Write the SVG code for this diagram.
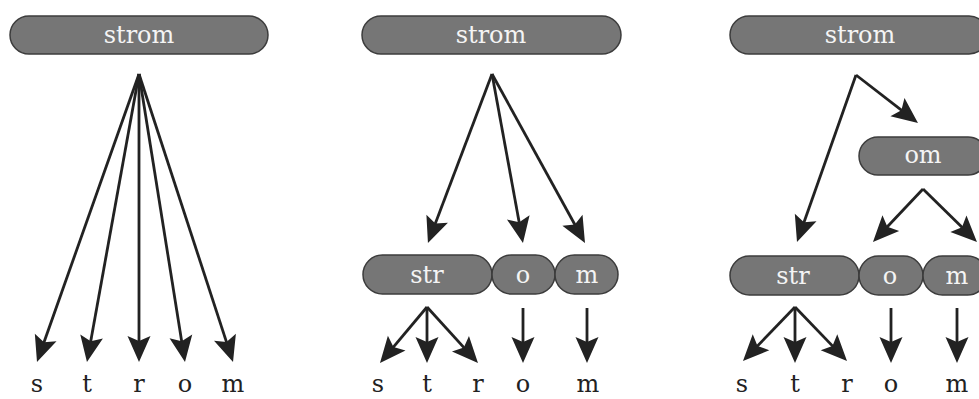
<svg xmlns="http://www.w3.org/2000/svg" width="979" height="399" viewBox="0 0 979 399">
  <defs>
    <marker id="head" viewBox="-15 -13 28 26" refX="0" refY="0" markerWidth="28" markerHeight="26" markerUnits="userSpaceOnUse" orient="auto">
      <path d="M12,0 L-14,-11.5 L-9,0 L-14,11.5 Z" fill="#222"/>
    </marker>
  </defs>
  <style>
    .box { fill: #767676; stroke: #3c3c3c; stroke-width: 1.5; }
    .lbl { font-family: "DejaVu Serif", "Liberation Serif", serif; font-size: 24px; fill: #f4f4f4; text-anchor: middle; }
    .ch { font-family: "DejaVu Serif", "Liberation Serif", serif; font-size: 24px; fill: #222; text-anchor: middle; }
    .edge { stroke: #222; stroke-width: 2.8; fill: none; marker-end: url(#head); }
  </style>

  <!-- panel 1: whole word split straight into letters -->
  <g id="p1-strom"><rect class="box" x="10" y="16" width="258" height="38" rx="19"/><text class="lbl" x="139" y="43">strom</text></g>
  <g id="p1-s"><text class="ch" x="37" y="392">s</text></g>
  <g id="p1-t"><text class="ch" x="87" y="392">t</text></g>
  <g id="p1-r"><text class="ch" x="139" y="392">r</text></g>
  <g id="p1-o"><text class="ch" x="185" y="392">o</text></g>
  <g id="p1-m"><text class="ch" x="233" y="392">m</text></g>

  <!-- panel 2: word into str / o / m, then letters -->
  <g id="p2-strom"><rect class="box" x="362" y="16" width="259" height="38" rx="19"/><text class="lbl" x="491" y="43">strom</text></g>
  <g id="p2-str"><rect class="box" x="363" y="255" width="129" height="39" rx="19.5"/><text class="lbl" x="427" y="283">str</text></g>
  <g id="p2-o"><rect class="box" x="492" y="255" width="63" height="39" rx="19.5"/><text class="lbl" x="523" y="283">o</text></g>
  <g id="p2-m"><rect class="box" x="555" y="255" width="63" height="39" rx="19.5"/><text class="lbl" x="587" y="283">m</text></g>
  <g id="p2-letters">
    <text class="ch" x="378" y="392">s</text>
    <text class="ch" x="427" y="392">t</text>
    <text class="ch" x="478" y="392">r</text>
    <text class="ch" x="523" y="392">o</text>
    <text class="ch" x="588" y="392">m</text>
  </g>

  <!-- panel 3: word into str / om, om into o / m -->
  <g id="p3-strom"><rect class="box" x="730" y="16" width="258" height="38" rx="19"/><text class="lbl" x="860" y="43">strom</text></g>
  <g id="p3-om"><rect class="box" x="859" y="137" width="128" height="38" rx="19"/><text class="lbl" x="923" y="163">om</text></g>
  <g id="p3-str"><rect class="box" x="730" y="256" width="129" height="39" rx="19.5"/><text class="lbl" x="793" y="284">str</text></g>
  <g id="p3-o"><rect class="box" x="859" y="256" width="64" height="39" rx="19.5"/><text class="lbl" x="890" y="284">o</text></g>
  <g id="p3-m"><rect class="box" x="923" y="256" width="64" height="39" rx="19.5"/><text class="lbl" x="957" y="284">m</text></g>
  <g id="p3-letters">
    <text class="ch" x="742" y="392">s</text>
    <text class="ch" x="795" y="392">t</text>
    <text class="ch" x="847" y="392">r</text>
    <text class="ch" x="891" y="392">o</text>
    <text class="ch" x="957" y="392">m</text>
  </g>

  <g id="connectors">
    <!-- panel 1 -->
    <line class="edge" x1="139" y1="74" x2="41" y2="350.7"/>
    <line class="edge" x1="139" y1="74" x2="89.1" y2="350.2"/>
    <line class="edge" x1="139" y1="74" x2="139" y2="350"/>
    <line class="edge" x1="139" y1="74" x2="183.1" y2="350.2"/>
    <line class="edge" x1="139" y1="74" x2="229.3" y2="350.6"/>
    <!-- panel 2 -->
    <line class="edge" x1="492" y1="74" x2="432.2" y2="231.8"/>
    <line class="edge" x1="492" y1="74" x2="520.8" y2="231.2"/>
    <line class="edge" x1="492" y1="74" x2="579.2" y2="232.5"/>
    <line class="edge" x1="427" y1="307" x2="387.7" y2="353.8"/>
    <line class="edge" x1="427" y1="307" x2="427" y2="351"/>
    <line class="edge" x1="427" y1="307" x2="469.9" y2="354.1"/>
    <line class="edge" x1="523" y1="308" x2="523" y2="351"/>
    <line class="edge" x1="587" y1="308" x2="587" y2="351"/>
    <!-- panel 3 -->
    <line class="edge" x1="856" y1="75" x2="908.5" y2="115.7"/>
    <line class="edge" x1="856" y1="75" x2="801" y2="230.7"/>
    <line class="edge" x1="923" y1="189" x2="881.2" y2="233.3"/>
    <line class="edge" x1="923" y1="189" x2="968.4" y2="233.6"/>
    <line class="edge" x1="795" y1="307" x2="751.3" y2="352.4"/>
    <line class="edge" x1="795" y1="307" x2="795" y2="351"/>
    <line class="edge" x1="795" y1="307" x2="838.7" y2="352.4"/>
    <line class="edge" x1="891" y1="308" x2="891" y2="351"/>
    <line class="edge" x1="957" y1="308" x2="957" y2="351"/>
  </g>
</svg>
